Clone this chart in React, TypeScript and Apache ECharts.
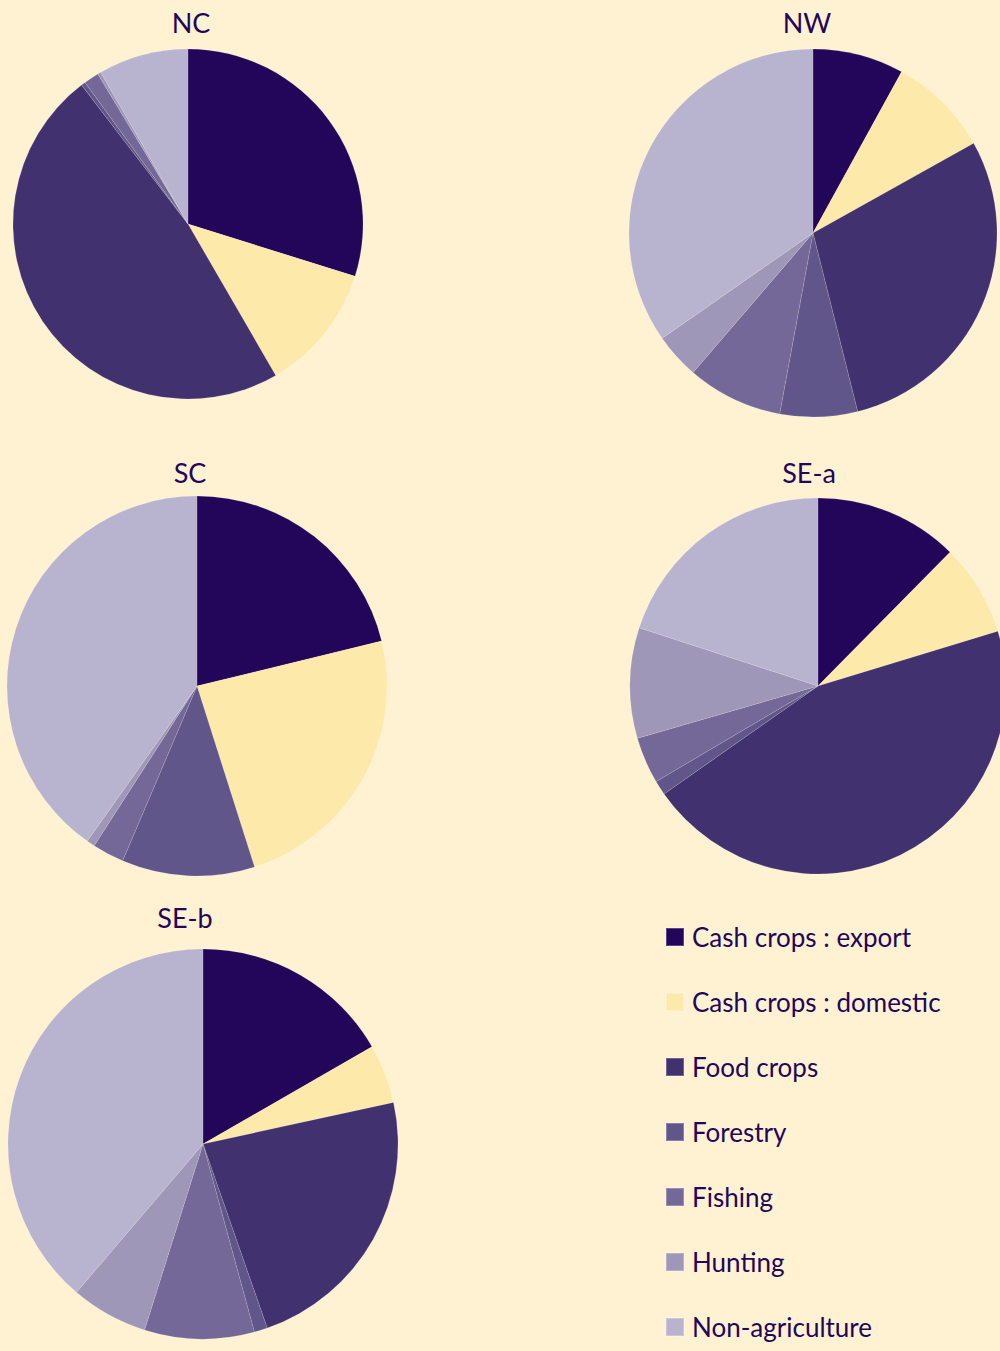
import React, { useEffect, useRef } from "react";
import * as echarts from "echarts";

const categories = [
  "Cash crops : export",
  "Cash crops : domestic",
  "Food crops",
  "Forestry",
  "Fishing",
  "Hunting",
  "Non-agriculture",
];

const regions = ["NC", "NW", "SC", "SE-a", "SE-b"];

const valuesNC = [29.8, 11.8, 47.9, 0.4, 1.4, 0.3, 8.3];
const valuesNW = [8.0, 8.9, 29.2, 6.8, 8.4, 4.0, 34.7];
const valuesSC = [21.2, 23.9, 0, 11.3, 2.7, 0.7, 40.2];
const valuesSEa = [12.4, 7.9, 45.0, 1.25, 4.0, 9.5, 20.0];
const valuesSEb = [16.7, 4.9, 23.1, 1.1, 9.1, 6.4, 38.8];

const colors = ["#23065a", "#fde9aa", "#41316e", "#615689", "#736897", "#9e97b8", "#b8b4cf"];

export default function App() {
  const ref = useRef<HTMLDivElement>(null);
  useEffect(() => {
    if (!ref.current) return;
    const chart = echarts.init(ref.current, null, { renderer: "svg" });
    const layout = [
      { center: [188, 224], r: 175, title: [191, 22] },
      { center: [813, 233], r: 184, title: [807, 22] },
      { center: [197, 686], r: 190, title: [190, 472] },
      { center: [818, 686], r: 188, title: [809, 472] },
      { center: [203, 1144], r: 195, title: [185, 917] },
    ];
    const allValues = [valuesNC, valuesNW, valuesSC, valuesSEa, valuesSEb];
    const font = "Lato, 'Open Sans', sans-serif";
    chart.setOption({
      animation: false,
      backgroundColor: "#fef2d3",
      color: colors,
      legend: {
        orient: "vertical",
        left: 660,
        top: 917,
        height: 440,
        itemWidth: 18,
        itemHeight: 18,
        itemGap: 35,
        icon: "rect",
        selectedMode: false,
        data: categories,
        textStyle: { color: "#23065a", fontSize: 26, fontFamily: font, lineHeight: 30, padding: [0, 0, 0, 3] },
      },
      graphic: regions.map((name, i) => ({
        type: "text",
        x: layout[i].title[0],
        y: layout[i].title[1],
        style: {
          text: name,
          fill: "#23065a",
          font: `27px ${font}`,
          textAlign: "center",
          textVerticalAlign: "middle",
        },
      })),
      series: regions.map((name, i) => ({
        type: "pie",
        name,
        center: layout[i].center,
        radius: [0, layout[i].r],
        startAngle: 90,
        clockwise: true,
        label: { show: false },
        labelLine: { show: false },
        emphasis: { disabled: true },
        itemStyle: { borderColor: "rgba(255,255,255,0.25)", borderWidth: 0.5 },
        data: categories.map((c, j) => ({ name: c, value: allValues[i][j] })),
      })),
    });
    return () => chart.dispose();
  }, []);
  return (
    <div
      ref={ref}
      style={{ position: "absolute", left: 0, top: 0, width: 1000, height: 1351 }}
    />
  );
}
